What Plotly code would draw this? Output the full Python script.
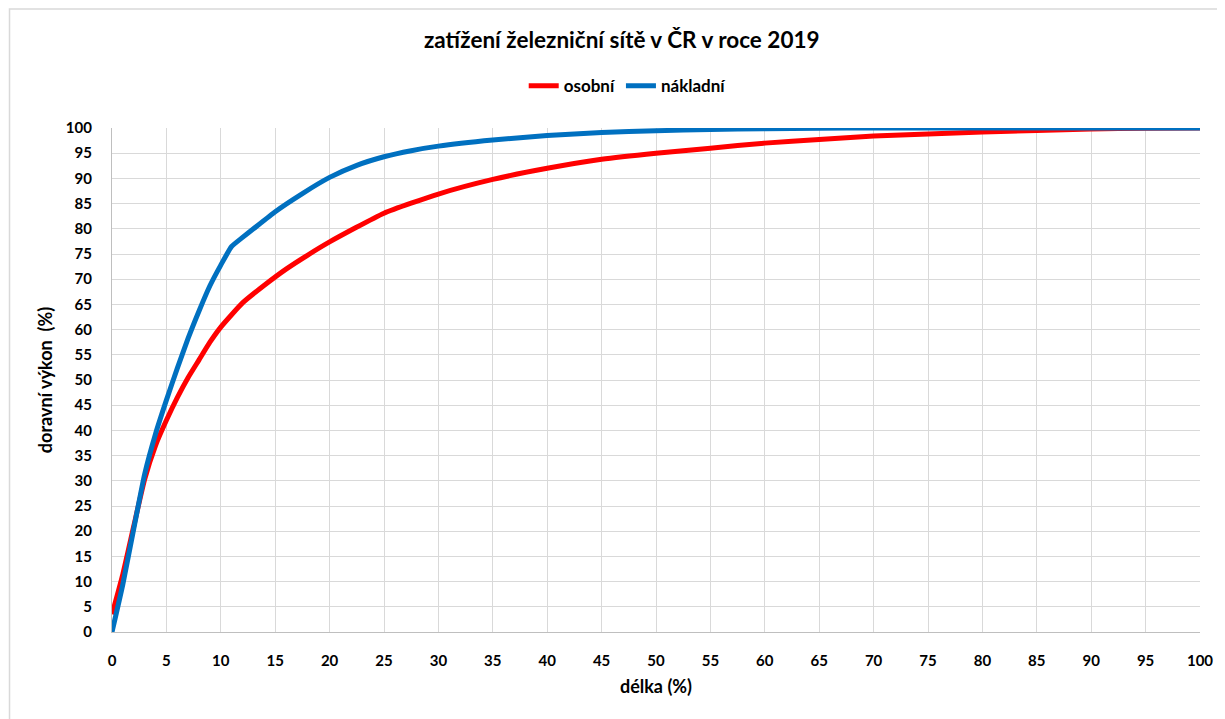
import plotly.graph_objects as go

# osobní (passenger) - cumulative share of traffic vs. share of network length
osobni_x = [0, 1, 2, 3, 4, 5, 6, 7, 8, 9, 10, 12, 14, 16, 18, 20,
            25, 30, 35, 40, 45, 50, 55, 60, 65, 70, 75, 80, 85, 90, 95, 100]
osobni_y = [3.5, 11.5, 21, 30.3, 37, 42, 46.5, 50.5, 54, 57.5, 60.5, 65.3, 68.8, 72, 74.8, 77.4,
            83.1, 86.9, 89.8, 92.0, 93.8, 95.0, 96.0, 97.0, 97.7, 98.4, 98.8, 99.2, 99.5, 99.8, 99.95, 100]

# nákladní (freight)
nakladni_x = [0, 1, 2, 3, 4, 5, 6, 7, 8, 9, 10, 11, 12, 13, 15, 17.5, 20, 22.5,
              25, 27.5, 30, 35, 40, 45, 50, 55, 60, 65, 70, 80, 90, 100]
nakladni_y = [0, 9.5, 20.5, 31.3, 39.3, 46, 52.3, 58.3, 63.7, 68.7, 72.8, 76.5, 78.3, 80.0, 83.4, 87, 90.2, 92.6,
              94.3, 95.5, 96.4, 97.6, 98.5, 99.1, 99.45, 99.7, 99.85, 99.95, 100, 100, 100, 100]

tick_vals = list(range(0, 101, 5))

FONT = "Lato"

fig = go.Figure()
fig.add_trace(go.Scatter(
    x=osobni_x, y=osobni_y, name="osobní", mode="lines",
    line=dict(color="#ff0000", width=5, shape="spline", smoothing=0.5),
))
fig.add_trace(go.Scatter(
    x=nakladni_x, y=nakladni_y, name="nákladní", mode="lines",
    line=dict(color="#0070c0", width=5, shape="spline", smoothing=0.5),
))

# outer chart border
fig.add_shape(type="rect", xref="paper", yref="paper",
              x0=-0.0942, x1=1.06, y0=-0.3, y1=1.236,
              line=dict(color="#d9d9d9", width=1.5), layer="below")

fig.update_layout(
    width=1225, height=719,
    margin=dict(l=104, r=33, t=120, b=95),
    plot_bgcolor="white", paper_bgcolor="white",
    font=dict(family=FONT, size=15, color="black", weight="bold"),
    title=dict(text="zatížení železniční sítě v ČR v roce 2019",
               x=0.501, xanchor="center", y=0.955, yanchor="middle",
               font=dict(size=22.5, family=FONT, color="black", weight="bold")),
    legend=dict(orientation="h", x=0.474, xanchor="center", y=1.083, yanchor="middle",
                font=dict(size=17, family=FONT, weight="bold"), bgcolor="rgba(0,0,0,0)"),
    showlegend=True,
    xaxis=dict(
        range=[0, 100], tickvals=tick_vals, ticks="", showgrid=True,
        gridcolor="#d9d9d9", gridwidth=1.3, zeroline=False,
        showline=True, linecolor="#bfbfbf", linewidth=1.3, automargin=False,
        tickfont=dict(size=15, family=FONT, weight="bold"), ticklabelstandoff=15,
        title=dict(text="délka (%)", font=dict(size=18, family=FONT, weight="bold"), standoff=12),
    ),
    yaxis=dict(
        range=[0, 100], tickvals=tick_vals, ticks="", showgrid=True,
        gridcolor="#d9d9d9", gridwidth=1.3, zeroline=False,
        showline=True, linecolor="#bfbfbf", linewidth=1.3, automargin=False,
        tickfont=dict(size=15, family=FONT, weight="bold"), ticklabelstandoff=16,
        title=dict(text="doravní výkon  (%)", font=dict(size=18, family=FONT, weight="bold"), standoff=8),
    ),
)

fig.write_html("out.html")
